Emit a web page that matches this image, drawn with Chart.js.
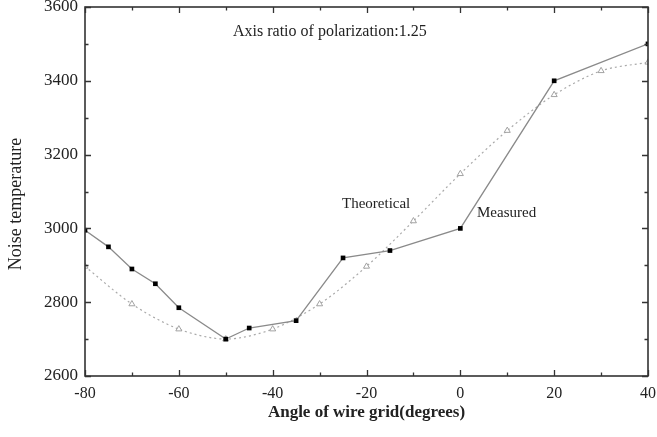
<!DOCTYPE html>
<html>
<head>
<meta charset="utf-8">
<style>
  html,body{margin:0;padding:0;background:#fff;}
  #wrap{width:657px;height:437px;position:relative;}
</style>
<script src="https://cdn.jsdelivr.net/npm/chart.js@4.4.1/dist/chart.umd.min.js"></script>
</head>
<body>
<div id="wrap"><canvas id="c" width="657" height="437"></canvas></div>
<script>
// ----- data -----
const measuredAngle = [-80, -75, -70, -65, -60, -50, -45, -35, -25, -15, 0, 20, 40];
const measuredTemp  = [2995, 2950, 2890, 2850, 2785, 2700, 2730, 2750, 2920, 2940, 3000, 3400, 3500];
const theoryAngle   = [-80, -70, -60, -50, -40, -30, -20, -10, 0, 10, 20, 30, 40];
const theoryTemp    = [2897, 2795, 2727, 2700, 2727, 2795, 2897, 3020, 3148, 3265, 3362, 3427, 3450];
const xTicks = [-80, -60, -40, -20, 0, 20, 40];
const yTicks = [2600, 2800, 3000, 3200, 3400, 3600];

const SERIF = "'Liberation Serif','Times New Roman',serif";
const pts = (xs, ys) => xs.map((x,i)=>({x, y:ys[i]}));

// frame + inward ticks on all four sides, plus the text labels
const framePlugin = {
  id: "frame",
  afterDraw(chart){
    const {ctx, chartArea:a, scales:{x, y}} = chart;
    ctx.save();
    ctx.strokeStyle = "#333";
    ctx.lineWidth = 1.6;
    ctx.strokeRect(a.left, a.top, a.right - a.left, a.bottom - a.top);
    ctx.lineWidth = 1.3;
    ctx.beginPath();
    for(let v = -80; v <= 40; v += 10){
      const px = Math.round(x.getPixelForValue(v)) + 0.5;
      const len = (v % 20 === 0) ? 6 : 3.5;
      ctx.moveTo(px, a.bottom); ctx.lineTo(px, a.bottom - len);
      ctx.moveTo(px, a.top); ctx.lineTo(px, a.top + len);
    }
    for(let v = 2600; v <= 3600; v += 100){
      const py = Math.round(y.getPixelForValue(v)) + 0.5;
      const len = (v % 200 === 0) ? 6 : 3.5;
      ctx.moveTo(a.left, py); ctx.lineTo(a.left + len, py);
      ctx.moveTo(a.right, py); ctx.lineTo(a.right - len, py);
    }
    ctx.stroke();

    ctx.fillStyle = "#222";
    ctx.textBaseline = "middle";
    ctx.textAlign = "left";
    ctx.font = "16px " + SERIF;
    ctx.fillText("Axis ratio of polarization:1.25", 233, 32);
    ctx.font = "15px " + SERIF;
    ctx.fillText("Theoretical", 342, 204);
    ctx.fillText("Measured", 477, 213);

    // y axis title sits a bit below the axis middle in the original
    ctx.translate(16, 204);
    ctx.rotate(-Math.PI / 2);
    ctx.textAlign = "center";
    ctx.font = "18px " + SERIF;
    ctx.fillText("Noise temperature", 0, 0);
    ctx.restore();
  }
};

new Chart(document.getElementById("c"), {
  type: "line",
  data: {
    datasets: [
      {
        label: "Measured",
        data: pts(measuredAngle, measuredTemp),
        borderColor: "#8a8a8a",
        borderWidth: 1.3,
        pointStyle: "rect",
        pointRadius: 3.3,
        pointBackgroundColor: "#000",
        pointBorderColor: "#000",
        pointBorderWidth: 0,
        tension: 0
      },
      {
        label: "Theoretical",
        data: pts(theoryAngle, theoryTemp),
        borderColor: "#aaaaaa",
        borderWidth: 1.2,
        borderDash: [2, 3],
        pointStyle: "triangle",
        pointRadius: 3.5,
        pointBackgroundColor: "#fff",
        pointBorderColor: "#999",
        pointBorderWidth: 0.9,
        tension: 0.3
      }
    ]
  },
  options: {
    responsive: false,
    animation: false,
    layout: { padding: { top: 7, right: 9, left: 0, bottom: 0 } },
    plugins: { legend: { display: false }, tooltip: { enabled: false } },
    scales: {
      x: {
        type: "linear",
        min: -80, max: 40,
        afterBuildTicks: s => { s.ticks = xTicks.map(v => ({value: v})); },
        afterFit: s => { s.height = 61; s.paddingLeft = 0; s.paddingRight = 0; },
        grid: { display: false, drawTicks: false },
        border: { display: false },
        ticks: { color: "#222", padding: 8, font: { family: SERIF, size: 16 }, callback: v => String(v) },
        title: {
          display: true,
          text: "Angle of wire grid(degrees)",
          color: "#222",
          padding: { top: 0, bottom: 14 },
          font: { family: SERIF, size: 17, weight: "bold" }
        }
      },
      y: {
        min: 2600, max: 3600,
        afterBuildTicks: s => { s.ticks = yTicks.map(v => ({value: v})); },
        afterFit: s => { s.width = 85; s.paddingTop = 0; s.paddingBottom = 0; },
        grid: { display: false, drawTicks: false },
        border: { display: false },
        ticks: { color: "#222", padding: 7, font: { family: SERIF, size: 17 }, callback: v => String(v) },
        title: { display: false }
      }
    }
  },
  plugins: [framePlugin]
});
</script>
</body>
</html>
